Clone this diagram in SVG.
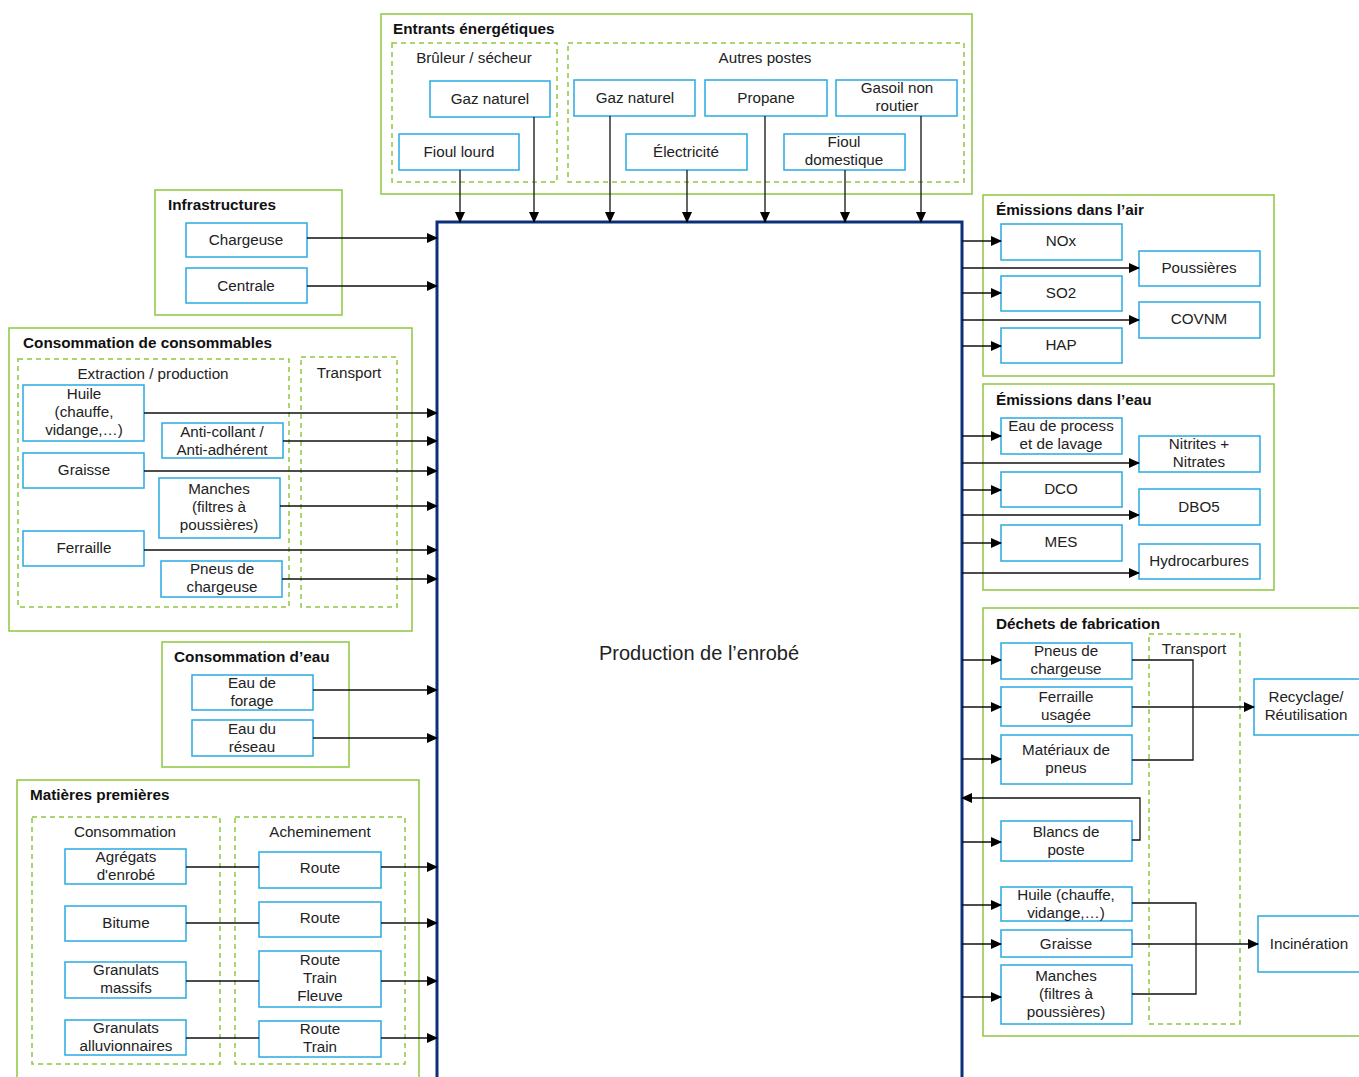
<svg xmlns="http://www.w3.org/2000/svg" width="1359" height="1077" viewBox="0 0 1359 1077">
<defs>
<marker id="ar" markerWidth="11" markerHeight="10" refX="10" refY="5" orient="auto" markerUnits="userSpaceOnUse">
<path d="M0,0 L11,5 L0,10 Z" fill="#000"/>
</marker>
<style>
.grp{fill:none;stroke:#8dc63f;stroke-width:1.5}
.dash{fill:none;stroke:#8dc63f;stroke-width:1.5;stroke-dasharray:5,4}
.box{fill:#fff;stroke:#29abe2;stroke-width:1.5}
.t{font-family:"Liberation Sans",Arial,sans-serif;font-size:15.2px;fill:#222;text-anchor:middle}
.h{font-family:"Liberation Sans",Arial,sans-serif;font-size:15.3px;font-weight:bold;fill:#111}
.c{fill:none;stroke:#111;stroke-width:1.3}
.ca{fill:none;stroke:#111;stroke-width:1.3;marker-end:url(#ar)}
</style>
</defs>
<rect width="1359" height="1077" fill="#fff"/>

<!-- Central process -->
<g id="production">
<rect x="437" y="222" width="525" height="870" fill="#fff" stroke="#0b2f7a" stroke-width="3"/>
<text x="699" y="660" class="t" style="font-size:20px">Production de l’enrobé</text>
</g>

<!-- Group frames -->
<g id="entrants">
<rect x="381" y="14" width="591" height="180" class="grp"/>
<text x="393" y="34" class="h">Entrants énergétiques</text>
<rect x="392" y="43" width="165" height="139" class="dash"/>
<text x="474" y="63" class="t">Brûleur / sécheur</text>
<rect x="568" y="43" width="396" height="139" class="dash"/>
<text x="765" y="63" class="t">Autres postes</text>
</g>
<g id="n-gaz1"><rect x="430" y="81" width="120" height="36" class="box"/><text x="490" y="104" class="t">Gaz naturel</text></g>
<g id="n-fioul-lourd"><rect x="399" y="134" width="120" height="36" class="box"/><text x="459" y="157" class="t">Fioul lourd</text></g>
<g id="n-gaz2"><rect x="574" y="80" width="121" height="36" class="box"/><text x="635" y="103" class="t">Gaz naturel</text></g>
<g id="n-propane"><rect x="705" y="80" width="122" height="36" class="box"/><text x="766" y="103" class="t">Propane</text></g>
<g id="n-gasoil"><rect x="836" y="80" width="121" height="36" class="box"/><text x="897" y="93" class="t">Gasoil non<tspan x="897" dy="18">routier</tspan></text></g>
<g id="n-elec"><rect x="626" y="134" width="121" height="36" class="box"/><text x="686" y="157" class="t">Électricité</text></g>
<g id="n-fioul-dom"><rect x="784" y="134" width="121" height="36" class="box"/><text x="844" y="147" class="t">Fioul<tspan x="844" dy="18">domestique</tspan></text></g>

<g id="infra">
<rect x="155" y="190" width="187" height="125" class="grp"/>
<text x="168" y="210" class="h">Infrastructures</text>
</g>
<g id="n-chargeuse"><rect x="186" y="223" width="121" height="34" class="box"/><text x="246" y="245" class="t">Chargeuse</text></g>
<g id="n-centrale"><rect x="186" y="268" width="121" height="35" class="box"/><text x="246" y="291" class="t">Centrale</text></g>

<g id="consommables">
<rect x="9" y="328" width="403" height="303" class="grp"/>
<text x="23" y="348" class="h">Consommation de consommables</text>
<rect x="18" y="359" width="271" height="248" class="dash"/>
<text x="153" y="379" class="t">Extraction / production</text>
<rect x="301" y="357" width="96" height="250" class="dash"/>
<text x="349" y="378" class="t">Transport</text>
</g>
<g id="n-huile"><rect x="23" y="385" width="121" height="56" class="box"/><text x="84" y="399" class="t">Huile<tspan x="84" dy="18">(chauffe,</tspan><tspan x="84" dy="18">vidange,…)</tspan></text></g>
<g id="n-anticollant"><rect x="162" y="423" width="121" height="35" class="box"/><text x="222" y="437" class="t">Anti-collant /<tspan x="222" dy="18">Anti-adhérent</tspan></text></g>
<g id="n-graisse"><rect x="23" y="453" width="121" height="35" class="box"/><text x="84" y="475" class="t">Graisse</text></g>
<g id="n-manches"><rect x="159" y="478" width="121" height="60" class="box"/><text x="219" y="494" class="t">Manches<tspan x="219" dy="18">(filtres à</tspan><tspan x="219" dy="18">poussières)</tspan></text></g>
<g id="n-ferraille"><rect x="23" y="531" width="121" height="35" class="box"/><text x="84" y="553" class="t">Ferraille</text></g>
<g id="n-pneus"><rect x="161" y="561" width="121" height="36" class="box"/><text x="222" y="574" class="t">Pneus de<tspan x="222" dy="18">chargeuse</tspan></text></g>

<g id="eau">
<rect x="162" y="642" width="187" height="125" class="grp"/>
<text x="174" y="662" class="h">Consommation d’eau</text>
</g>
<g id="n-forage"><rect x="192" y="675" width="121" height="35" class="box"/><text x="252" y="688" class="t">Eau de<tspan x="252" dy="18">forage</tspan></text></g>
<g id="n-reseau"><rect x="192" y="720" width="121" height="36" class="box"/><text x="252" y="734" class="t">Eau du<tspan x="252" dy="18">réseau</tspan></text></g>

<g id="matieres">
<rect x="17" y="780" width="402" height="310" class="grp"/>
<text x="30" y="800" class="h">Matières premières</text>
<rect x="32" y="817" width="188" height="247" class="dash"/>
<text x="125" y="837" class="t">Consommation</text>
<rect x="235" y="817" width="170" height="247" class="dash"/>
<text x="320" y="837" class="t">Acheminement</text>
</g>
<g id="n-agregats"><rect x="65" y="849" width="121" height="35" class="box"/><text x="126" y="862" class="t">Agrégats<tspan x="126" dy="18">d'enrobé</tspan></text></g>
<g id="n-bitume"><rect x="65" y="906" width="121" height="35" class="box"/><text x="126" y="928" class="t">Bitume</text></g>
<g id="n-massifs"><rect x="65" y="962" width="121" height="36" class="box"/><text x="126" y="975" class="t">Granulats<tspan x="126" dy="18">massifs</tspan></text></g>
<g id="n-alluv"><rect x="65" y="1020" width="121" height="35" class="box"/><text x="126" y="1033" class="t">Granulats<tspan x="126" dy="18">alluvionnaires</tspan></text></g>
<g id="n-route1"><rect x="259" y="852" width="122" height="36" class="box"/><text x="320" y="873" class="t">Route</text></g>
<g id="n-route2"><rect x="259" y="902" width="122" height="35" class="box"/><text x="320" y="923" class="t">Route</text></g>
<g id="n-route3"><rect x="259" y="951" width="122" height="56" class="box"/><text x="320" y="965" class="t">Route<tspan x="320" dy="18">Train</tspan><tspan x="320" dy="18">Fleuve</tspan></text></g>
<g id="n-route4"><rect x="259" y="1021" width="122" height="36" class="box"/><text x="320" y="1034" class="t">Route<tspan x="320" dy="18">Train</tspan></text></g>

<g id="air">
<rect x="983" y="195" width="291" height="181" class="grp"/>
<text x="996" y="215" class="h">Émissions dans l’air</text>
</g>
<g id="n-nox"><rect x="1001" y="224" width="121" height="36" class="box"/><text x="1061" y="246" class="t">NOx</text></g>
<g id="n-pouss"><rect x="1139" y="251" width="121" height="35" class="box"/><text x="1199" y="273" class="t">Poussières</text></g>
<g id="n-so2"><rect x="1001" y="276" width="121" height="35" class="box"/><text x="1061" y="298" class="t">SO2</text></g>
<g id="n-covnm"><rect x="1139" y="302" width="121" height="36" class="box"/><text x="1199" y="324" class="t">COVNM</text></g>
<g id="n-hap"><rect x="1001" y="328" width="121" height="35" class="box"/><text x="1061" y="350" class="t">HAP</text></g>

<g id="emeau">
<rect x="983" y="384" width="291" height="206" class="grp"/>
<text x="996" y="405" class="h">Émissions dans l’eau</text>
</g>
<g id="n-process"><rect x="1001" y="418" width="121" height="36" class="box"/><text x="1061" y="431" class="t">Eau de process<tspan x="1061" dy="18">et de lavage</tspan></text></g>
<g id="n-nitrites"><rect x="1139" y="436" width="121" height="36" class="box"/><text x="1199" y="449" class="t">Nitrites +<tspan x="1199" dy="18">Nitrates</tspan></text></g>
<g id="n-dco"><rect x="1001" y="472" width="121" height="35" class="box"/><text x="1061" y="494" class="t">DCO</text></g>
<g id="n-dbo5"><rect x="1139" y="489" width="121" height="36" class="box"/><text x="1199" y="512" class="t">DBO5</text></g>
<g id="n-mes"><rect x="1001" y="525" width="121" height="36" class="box"/><text x="1061" y="547" class="t">MES</text></g>
<g id="n-hydro"><rect x="1139" y="544" width="121" height="35" class="box"/><text x="1199" y="566" class="t">Hydrocarbures</text></g>

<g id="dechets">
<rect x="983" y="608" width="390" height="428" class="grp"/>
<text x="996" y="629" class="h">Déchets de fabrication</text>
<rect x="1149" y="634" width="91" height="390" class="dash"/>
<text x="1194" y="654" class="t">Transport</text>
</g>
<g id="n-d-pneus"><rect x="1001" y="643" width="131" height="36" class="box"/><text x="1066" y="656" class="t">Pneus de<tspan x="1066" dy="18">chargeuse</tspan></text></g>
<g id="n-d-ferraille"><rect x="1001" y="687" width="131" height="39" class="box"/><text x="1066" y="702" class="t">Ferraille<tspan x="1066" dy="18">usagée</tspan></text></g>
<g id="n-d-materiaux"><rect x="1001" y="735" width="131" height="49" class="box"/><text x="1066" y="755" class="t">Matériaux de<tspan x="1066" dy="18">pneus</tspan></text></g>
<g id="n-recyclage"><rect x="1254" y="679" width="110" height="56" class="box"/><text x="1306" y="702" class="t">Recyclage/<tspan x="1306" dy="18">Réutilisation</tspan></text></g>
<g id="n-blancs"><rect x="1001" y="821" width="131" height="40" class="box"/><text x="1066" y="837" class="t">Blancs de<tspan x="1066" dy="18">poste</tspan></text></g>
<g id="n-d-huile"><rect x="1001" y="887" width="131" height="34" class="box"/><text x="1066" y="900" class="t">Huile (chauffe,<tspan x="1066" dy="18">vidange,…)</tspan></text></g>
<g id="n-d-graisse"><rect x="1001" y="930" width="131" height="27" class="box"/><text x="1066" y="949" class="t">Graisse</text></g>
<g id="n-d-manches"><rect x="1001" y="965" width="131" height="59" class="box"/><text x="1066" y="981" class="t">Manches<tspan x="1066" dy="18">(filtres à</tspan><tspan x="1066" dy="18">poussières)</tspan></text></g>
<g id="n-incin"><rect x="1258" y="916" width="110" height="56" class="box"/><text x="1309" y="949" class="t">Incinération</text></g>

<g id="connectors">
<path d="M460,170 V222" class="ca"/>
<path d="M534,117 V222" class="ca"/>
<path d="M610,116 V222" class="ca"/>
<path d="M687,170 V222" class="ca"/>
<path d="M765,116 V222" class="ca"/>
<path d="M845,170 V222" class="ca"/>
<path d="M921,116 V222" class="ca"/>
<path d="M307,238 H437" class="ca"/>
<path d="M307,286 H437" class="ca"/>
<path d="M144,413 H437" class="ca"/>
<path d="M283,441 H437" class="ca"/>
<path d="M144,471 H437" class="ca"/>
<path d="M280,506 H437" class="ca"/>
<path d="M144,550 H437" class="ca"/>
<path d="M282,579 H437" class="ca"/>
<path d="M313,690 H437" class="ca"/>
<path d="M313,738 H437" class="ca"/>
<path d="M186,867 H259" class="c"/><path d="M381,867 H437" class="ca"/>
<path d="M186,923 H259" class="c"/><path d="M381,923 H437" class="ca"/>
<path d="M186,981 H259" class="c"/><path d="M381,981 H437" class="ca"/>
<path d="M186,1038 H259" class="c"/><path d="M381,1038 H437" class="ca"/>
<path d="M962,241 H1001" class="ca"/>
<path d="M962,268 H1139" class="ca"/>
<path d="M962,293 H1001" class="ca"/>
<path d="M962,320 H1139" class="ca"/>
<path d="M962,346 H1001" class="ca"/>
<path d="M962,436 H1001" class="ca"/>
<path d="M962,463 H1139" class="ca"/>
<path d="M962,490 H1001" class="ca"/>
<path d="M962,515 H1139" class="ca"/>
<path d="M962,543 H1001" class="ca"/>
<path d="M962,573 H1139" class="ca"/>
<path d="M962,660 H1001" class="ca"/>
<path d="M962,707 H1001" class="ca"/>
<path d="M962,759 H1001" class="ca"/>
<path d="M962,842 H1001" class="ca"/>
<path d="M962,905 H1001" class="ca"/>
<path d="M962,944 H1001" class="ca"/>
<path d="M962,997 H1001" class="ca"/>
<path d="M1132,660 H1193 V760 H1132" class="c"/>
<path d="M1132,707 H1254" class="ca"/>
<path d="M1132,840 H1140 V798 H962" class="ca"/>
<path d="M1132,903 H1196 V994 H1132" class="c"/>
<path d="M1132,944 H1258" class="ca"/>
</g>
</svg>
